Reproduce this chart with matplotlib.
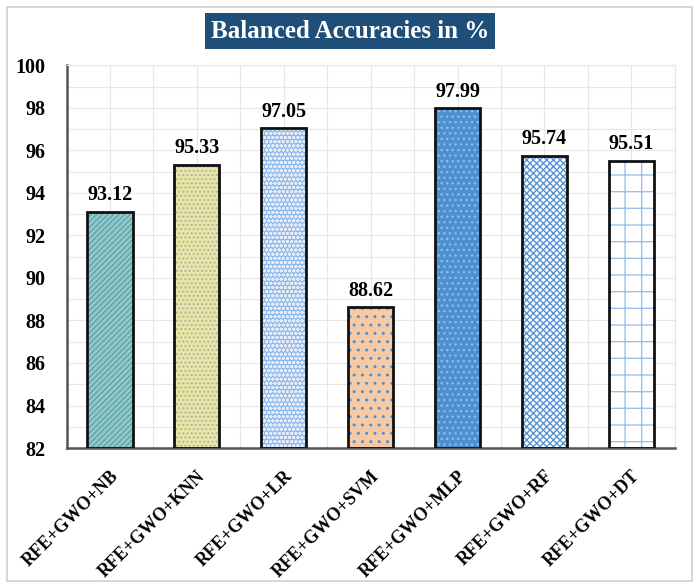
import matplotlib.pyplot as plt
import numpy as np
from matplotlib.patches import Rectangle

plt.rcParams['font.family'] = ['Liberation Serif', 'DejaVu Serif']
plt.rcParams['font.weight'] = 'bold'
plt.rcParams['hatch.linewidth'] = 1.0

models = ['RFE+GWO+NB', 'RFE+GWO+KNN', 'RFE+GWO+LR', 'RFE+GWO+SVM',
          'RFE+GWO+MLP', 'RFE+GWO+RF', 'RFE+GWO+DT']
scores = [93.12, 95.33, 97.05, 88.62, 97.99, 95.74, 95.51]

# fill colour, hatch colour, hatch pattern per bar
fills = ['#93cbcc', '#ebe6a3', '#8fb8ea', '#f7caa6', '#4d8fd3', '#ffffff', '#ffffff']
hatch_cols = ['#5fa3a5', '#a9b7a8', '#e3edfa', '#4d8fd3', '#8ebbea', '#5b93d6', '#9cc0ea']
hatches = ['//////', '....', 'oooo', '..', '...', 'xxxxx', '-|']

fig = plt.figure(figsize=(7, 5.88), dpi=100)
# outer frame
fig.patches.append(Rectangle((0.01, 0.012), 0.978, 0.976, transform=fig.transFigure,
                             fill=False, edgecolor='#d0d0d0', linewidth=1.2))

ax = fig.add_axes([0.095, 0.238, 0.869, 0.651])
x = np.arange(len(models))
for i in range(len(models)):
    ax.bar(x[i], scores[i] - 82, bottom=82, width=0.52, color=fills[i],
           edgecolor=hatch_cols[i], hatch=hatches[i], linewidth=0, zorder=2)
ax.bar(x, np.array(scores) - 82, bottom=82, width=0.52, fill=False,
       edgecolor='#111111', linewidth=2, zorder=3)

for xi, s in zip(x, scores):
    ax.text(xi, s + 0.3, f'{s:.2f}', ha='center', va='bottom',
            fontsize=14.5, fontweight='bold')

ax.set_ylim(82, 100)
ax.set_xlim(-0.5, len(models) - 0.5)
ax.set_yticks(np.arange(82, 101, 2))
ax.set_yticks(np.arange(82, 101, 1), minor=True)
ax.set_xticks(x)
ax.set_xticks(np.arange(-0.5, len(models), 1), minor=True)
ax.set_xticklabels(models, rotation=45, ha='right', rotation_mode='anchor',
                   fontsize=13, fontweight='bold')
for lab in ax.get_xticklabels():
    lab.set_x(lab.get_position()[0])
ax.tick_params(axis='y', labelsize=14.5, length=0, pad=15)
ax.tick_params(axis='x', length=0, pad=14)
ax.tick_params(which='minor', length=0)
ax.grid(True, which='both', color='#e6e6e6', linewidth=0.8, zorder=0)
ax.set_axisbelow(True)
for sp in ['top', 'right']:
    ax.spines[sp].set_color('#e6e6e6')
    ax.spines[sp].set_linewidth(0.8)
for sp in ['left', 'bottom']:
    ax.spines[sp].set_color('#555555')
    ax.spines[sp].set_linewidth(1.8)

fig.text(0.5, 0.947, 'Balanced Accuracies in %', ha='center', va='center',
         color='white', fontsize=18, fontweight='bold',
         bbox=dict(boxstyle='square,pad=0.25', facecolor='#1f4e79', edgecolor='none'))

fig.savefig('out.png', dpi=100)
